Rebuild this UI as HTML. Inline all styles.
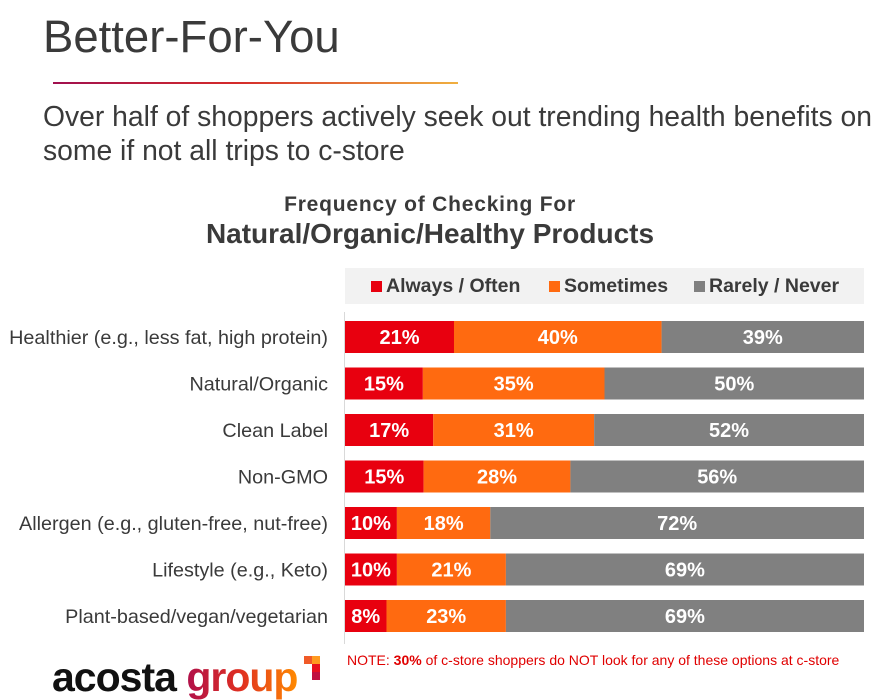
<!DOCTYPE html>
<html><head><meta charset="utf-8"><style>
body{margin:0;width:884px;height:700px;background:#fff;font-family:"Liberation Sans",Arial,sans-serif;position:relative;overflow:hidden}
.abs{position:absolute}
</style></head><body>
<div class="abs" style="left:43px;top:11px;font-size:45.5px;color:#3a3a3a;line-height:52px">Better-For-You</div>
<div class="abs" style="left:53px;top:82px;width:405px;height:2px;background:linear-gradient(90deg,#a0104f,#d42a2a 45%,#f0b040)"></div>
<div class="abs" style="left:43px;top:99px;font-size:28.3px;color:#3a3a3a;line-height:34px;width:840px">Over half of shoppers actively seek out trending health benefits on some if not all trips to c-store</div>
<div class="abs" style="left:0;width:860px;top:193px;text-align:center;font-size:21px;font-weight:bold;color:#3a3a3a;letter-spacing:0.8px">Frequency of Checking For</div>
<div class="abs" style="left:0;width:860px;top:218px;text-align:center;font-size:28px;font-weight:bold;color:#3a3a3a">Natural/Organic/Healthy Products</div>
<div class="abs" style="left:345px;top:268px;width:519px;height:36px;background:#f2f2f2;font-size:19.5px;font-weight:bold;color:#3a3a3a;line-height:36px">
 <span class="abs" style="left:26px"><span style="display:inline-block;width:11px;height:11px;background:#e8000f;margin-right:4px"></span>Always / Often</span>
 <span class="abs" style="left:204px"><span style="display:inline-block;width:11px;height:11px;background:#ff6a10;margin-right:4px"></span>Sometimes</span>
 <span class="abs" style="left:349px"><span style="display:inline-block;width:11px;height:11px;background:#808080;margin-right:4px"></span>Rarely / Never</span>
</div>
<div class="abs" style="left:344px;top:312px;width:1px;height:332px;background:#d9d9d9"></div>
<svg class="abs" id="chart" style="left:0;top:0" width="884" height="700"></svg>
<div class="abs" style="left:347px;top:652px;font-size:14px;color:#e00000">NOTE: <b>30%</b> of c-store shoppers do NOT look for any of these options at c-store</div>
<div class="abs" style="left:52px;top:654px;font-size:41px;font-weight:bold;letter-spacing:-1px;line-height:46px"><span style="color:#111">acosta </span><span style="background:linear-gradient(90deg,#b0104a,#e03020,#ff8a00);-webkit-background-clip:text;color:transparent">group</span></div>
<div class="abs" style="left:304px;top:656px;width:16px;height:24px">
 <div class="abs" style="left:0;top:0;width:8px;height:8px;background:#f05a28"></div>
 <div class="abs" style="left:8px;top:0;width:8px;height:8px;background:#ff9a20"></div>
 <div class="abs" style="left:8px;top:8px;width:8px;height:8px;background:#e8101f"></div>
 <div class="abs" style="left:8px;top:16px;width:8px;height:8px;background:#c01040"></div>
</div>
<script>
const categories=["Healthier (e.g., less fat, high protein)","Natural/Organic","Clean Label","Non-GMO","Allergen (e.g., gluten-free, nut-free)","Lifestyle (e.g., Keto)","Plant-based/vegan/vegetarian"];
const alwaysOften=[21,15,17,15,10,10,8];
const sometimes=[40,35,31,28,18,21,23];
const rarelyNever=[39,50,52,56,72,69,69];
const svg=document.getElementById('chart');
const NS='http://www.w3.org/2000/svg';
const x0=345,x1=864,top0=321,step=46.5,bh=32;
function rowY(i){return top0+i*step;}
const series=[{v:alwaysOften,c:'#e8000f',n:'always-often'},{v:sometimes,c:'#ff6a10',n:'sometimes'},{v:rarelyNever,c:'#808080',n:'rarely-never'}];
categories.forEach((cat,i)=>{
 const total=alwaysOften[i]+sometimes[i]+rarelyNever[i];
 const sx=v=>v/total*(x1-x0);
 const y=rowY(i);
 const lab=document.createElementNS(NS,'text');
 
 
 lab.setAttribute('x',328);lab.setAttribute('y',y+bh/2+7);
 lab.setAttribute('text-anchor','end');lab.setAttribute('font-size','19.8');lab.setAttribute('fill','#3a3a3a');
 lab.setAttribute('font-family','Liberation Sans, sans-serif');
 lab.textContent=cat;svg.appendChild(lab);
 let acc=x0;
 series.forEach(s=>{
  const w=sx(s.v[i]);
  const r=document.createElementNS(NS,'rect');
  
  
  r.setAttribute('x',acc);r.setAttribute('y',y);r.setAttribute('width',w);r.setAttribute('height',bh);r.setAttribute('fill',s.c);
  svg.appendChild(r);
  const t=document.createElementNS(NS,'text');
  
  
  t.setAttribute('x',acc+w/2);t.setAttribute('y',y+bh/2+7);t.setAttribute('text-anchor','middle');
  t.setAttribute('font-size','20');t.setAttribute('font-weight','bold');t.setAttribute('fill','#fff');
  t.setAttribute('font-family','Liberation Sans, sans-serif');
  t.textContent=s.v[i]+'%';svg.appendChild(t);
  acc+=w;
 });
});
</script>
</body></html>
